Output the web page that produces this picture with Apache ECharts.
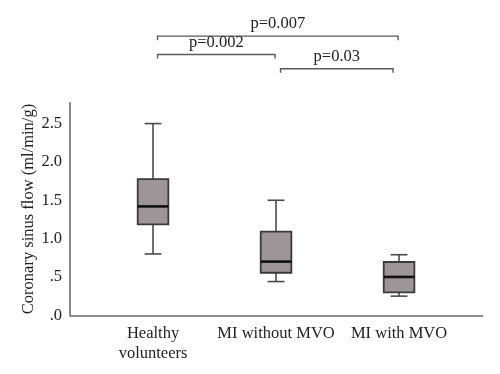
<!DOCTYPE html>
<html>
<head>
<meta charset="utf-8">
<script src="https://cdn.jsdelivr.net/npm/echarts@6/dist/echarts.min.js"></script>
<style>html,body{margin:0;padding:0;background:#fff}#c{width:500px;height:374px}</style>
</head>
<body>
<div id="c"></div>
<script>
// ---- data ----
const categories = ['Healthy\nvolunteers', 'MI without MVO', 'MI with MVO'];
const whiskerLow = [0.80, 0.44, 0.25];
const q1 = [1.185, 0.555, 0.30];
const median = [1.42, 0.70, 0.50];
const q3 = [1.775, 1.09, 0.695];
const whiskerHigh = [2.50, 1.50, 0.79];
const yTicks = [0, 0.5, 1.0, 1.5, 2.0, 2.5];
const compFrom = [0, 0, 1];
const compTo = [2, 1, 2];
const compText = ['p=0.007', 'p=0.002', 'p=0.03'];

const FONT = 'Liberation Serif';
const boxData = categories.map((c, i) => [i, whiskerLow[i], q1[i], median[i], q3[i], whiskerHigh[i]]);
const bracketData = compText.map((t, i) => [compFrom[i], compTo[i], i]);
// bracket level (data units above plot) per comparison, styling only
const bracketLevel = [3.64, 3.40, 3.215];

const chart = echarts.init(document.getElementById('c'), null, {renderer: 'canvas'});
chart.setOption({
  animation: false,
  backgroundColor: '#fff',
  grid: {left: 70, right: 17.3, top: 102.7, bottom: 58.7},
  xAxis: {
    type: 'value', min: -0.675, max: 2.68,
    axisLine: {show: true, onZero: false, lineStyle: {color: '#6a6a6a', width: 1.6}},
    axisTick: {show: false},
    splitLine: {show: false},
    axisLabel: {
      customValues: [0, 1, 2],
      formatter: v => categories[Math.round(v)] || '',
      fontFamily: FONT, fontSize: 16.5, color: '#222', lineHeight: 20, margin: 8
    }
  },
  yAxis: {
    type: 'value', min: 0, max: 2.772,
    name: 'Coronary sinus flow (ml/min/g)', nameLocation: 'middle', nameGap: 33,
    nameMoveOverlap: false,
    nameTextStyle: {fontFamily: FONT, fontSize: 16.5, color: '#222'},
    axisLine: {show: true, onZero: false, lineStyle: {color: '#6a6a6a', width: 1.6}},
    axisTick: {show: false},
    splitLine: {show: false},
    axisLabel: {
      customValues: yTicks,
      formatter: v => { const s = v.toFixed(1); return v < 1 ? s.replace(/^0/, '') : s; },
      fontFamily: FONT, fontSize: 16.5, color: '#222', margin: 8
    }
  },
  series: [
    {
      type: 'custom',
      data: boxData,
      renderItem(params, api) {
        const x = api.value(0);
        const pLo = api.coord([x, api.value(1)]);
        const pQ1 = api.coord([x, api.value(2)]);
        const pMed = api.coord([x, api.value(3)]);
        const pQ3 = api.coord([x, api.value(4)]);
        const pHi = api.coord([x, api.value(5)]);
        const bw = api.size([1, 0])[0] * 0.249;
        const cw = bw * 0.55;
        const cx = pLo[0];
        const wStyle = {stroke: '#4a4a4a', lineWidth: 1.6};
        return {
          type: 'group',
          children: [
            {type: 'line', shape: {x1: cx, y1: pHi[1], x2: cx, y2: pQ3[1]}, style: wStyle},
            {type: 'line', shape: {x1: cx, y1: pLo[1], x2: cx, y2: pQ1[1]}, style: wStyle},
            {type: 'line', shape: {x1: cx - cw / 2, y1: pHi[1], x2: cx + cw / 2, y2: pHi[1]}, style: wStyle},
            {type: 'line', shape: {x1: cx - cw / 2, y1: pLo[1], x2: cx + cw / 2, y2: pLo[1]}, style: wStyle},
            {type: 'rect', shape: {x: cx - bw / 2, y: pQ3[1], width: bw, height: pQ1[1] - pQ3[1]},
              style: {fill: '#9d9597', stroke: '#3a3a3a', lineWidth: 1.8}},
            {type: 'line', shape: {x1: cx - bw / 2, y1: pMed[1], x2: cx + bw / 2, y2: pMed[1]},
              style: {stroke: '#111', lineWidth: 2.6}}
          ]
        };
      }
    },
    {
      type: 'custom',
      data: bracketData,
      clip: false,
      renderItem(params, api) {
        const i = api.value(2);
        const lvl = bracketLevel[i];
        const a = api.coord([api.value(0), lvl]);
        const b = api.coord([api.value(1), lvl]);
        const x1 = a[0] + 4.5, x2 = b[0] - (i === 2 ? 6 : 1);
        const y = a[1];
        const st = {stroke: '#5a5a5a', lineWidth: 1.4, fill: 'none'};
        return {
          type: 'group',
          children: [
            {type: 'polyline', shape: {points: [[x1, y + 4], [x1, y], [x2, y], [x2, y + 4]]}, style: st},
            {type: 'text', style: {text: compText[i], x: (x1 + x2) / 2, y: y - 3.5,
              align: 'center', verticalAlign: 'bottom', font: '16.5px "' + FONT + '"', fill: '#222'}}
          ]
        };
      }
    }
  ]
});
</script>
</body>
</html>
